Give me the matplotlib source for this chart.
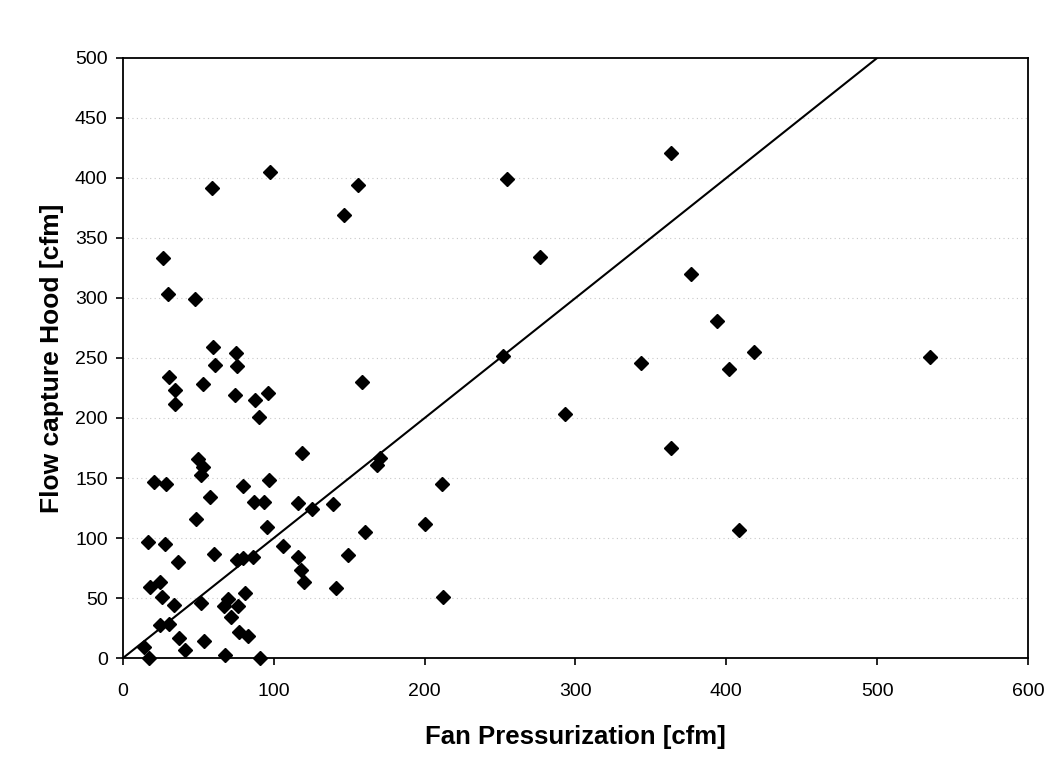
import numpy as np
import matplotlib
matplotlib.use('Agg')
import matplotlib.pyplot as plt

plt.rcParams['font.family'] = ['Liberation Sans', 'DejaVu Sans']

# Data: fan pressurization vs flow capture hood [cfm]
fan = [97.5, 58.7, 26.7, 29.8, 47.7, 59.8, 74.6,
       61, 75.5, 30.7, 52.8, 34.4, 74, 96.3, 87.6, 34.4, 90.3, 119, 50, 52.8,
       52, 20.8, 28.5, 97, 79.5, 57.4, 87, 93.2, 116, 48.3, 95.8, 16.8, 28,
       106.4, 60.5, 75.5, 79.3, 85.9, 36.2, 116, 118, 120, 18, 24.5, 25.6, 34,
       52, 69.3, 67, 76.4, 81, 71.5, 24.5, 30.3, 77, 82.6, 36.9, 41, 53.4, 14,
       17.4, 67.5, 90.7,
       254.3, 156.1, 146.6, 252, 158.3, 170.4, 168.2, 211.3, 125.6, 139.3,
       200.2, 160.3, 149.5, 141.5, 212.4,
       363, 276.4, 376.8, 393.8, 418.5, 343.5, 401.5, 292.9, 363, 408.6, 535]
hood = [405, 392, 333, 303, 299, 259, 254,
        244, 243, 234, 228, 223, 219, 220.5, 215, 212, 200.5, 171, 166, 159.5,
        152.5, 147, 145, 148, 143, 134.5, 130, 130, 129.5, 115.6, 109, 96.4, 94.7,
        93.6, 87, 82, 83, 84, 80, 84, 73, 63, 59, 63, 50.5, 44,
        45.5, 49, 43, 43, 54, 34, 27.5, 28.3, 22, 18, 17, 7, 14, 9.5,
        0, 2.5, 0,
        399, 394, 369, 252, 230, 167, 161, 145, 124, 128,
        112, 105, 86, 58, 51,
        421, 334, 320, 281, 255, 246, 241, 203, 175, 107, 251]

# 1:1 line
line_x = [0, 500]
line_y = [0, 500]

fig = plt.figure(figsize=(10.54, 7.67), dpi=100)
ax = fig.add_axes([0.1167, 0.1421, 0.8586, 0.7823])

ax.plot(line_x, line_y, color='black', linewidth=1.5, zorder=2)
ax.plot(fan, hood, linestyle='none', marker='D', markersize=7,
        color='black', zorder=3, clip_on=False)

ax.set_xlim(0, 600)
ax.set_ylim(0, 500)
ax.set_xticks(np.arange(0, 601, 100))
ax.set_yticks(np.arange(0, 501, 50))

# faint dotted gridlines like the scanned excel chart
for yv in np.arange(50, 500, 50):
    ax.axhline(yv, color='#c8c8c8', linestyle=(0, (1, 3)), linewidth=0.8, zorder=1)

for s in ax.spines.values():
    s.set_linewidth(1.3)
    s.set_color('black')

ax.tick_params(axis='both', direction='out', length=5, width=1.2,
               labelsize=14, colors='black')
ax.tick_params(axis='x', pad=13)
ax.tick_params(axis='y', pad=6)

ax.set_xlabel('Fan Pressurization [cfm]', fontsize=18.5, fontweight='bold', labelpad=18)
ax.set_ylabel('Flow capture Hood [cfm]', fontsize=19, fontweight='bold', labelpad=8)

fig.savefig('out.png', dpi=100)
